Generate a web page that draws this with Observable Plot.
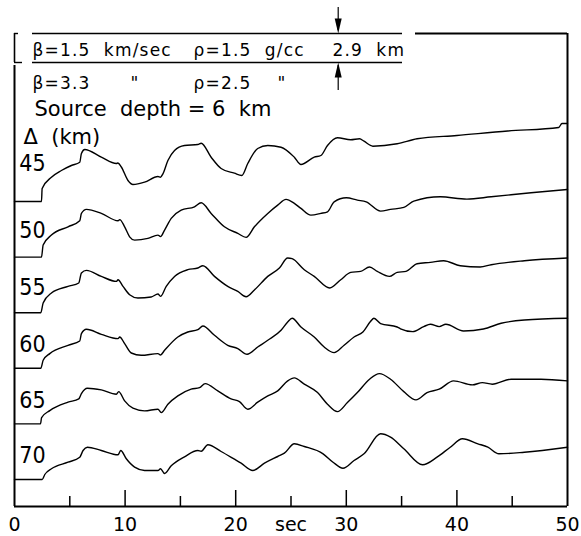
<!DOCTYPE html>
<html>
<head>
<meta charset="utf-8">
<script src="https://cdn.jsdelivr.net/npm/d3@7"></script>
<script src="https://cdn.jsdelivr.net/npm/@observablehq/plot@0.6"></script>
<style>
  html, body { margin: 0; padding: 0; background: #fff; }
  text[aria-label="header"] { letter-spacing: 1.2px; }
  text[aria-label="trace label"] { font-family: "DejaVu Sans Condensed", "DejaVu Sans", sans-serif; font-stretch: condensed; }
</style>
</head>
<body>
<div id="chart"></div>
<script>
// ---- data ----
const distances = [45, 50, 55, 60, 65, 70];           // Δ (km)
const labelRise = [31, 19, 18, 16, 16, 17];            // label baseline above trace baseline (amplitude units)
const tickValues = [0, 10, 20, 25, 30, 40, 50];
const tickLabels = ["0", "10", "20", "sec", "30", "40", "50"];
const majorTicks = [10, 20, 30, 40];
const minorTicks = [5, 15, 25, 35, 45];

// [time (sec), amplitude (arbitrary units)]
const trace45 = [[0,0],[2.44,0],[2.5,13],[3.34,24.3],[4.24,31],[5.14,36],[5.9,39.3],[6.05,48],[6.35,52],[7.85,44.3],[9.21,38],[9.35,38.5],[9.66,34.5],[10.26,21],[10.71,17],[11.76,19.3],[12.97,25],[13.2,24.3],[13.42,27.7],[13.87,41],[14.47,51],[15.37,56],[16.58,57],[16.88,58.3],[17.78,44.3],[18.68,33],[19.88,28.3],[20.55,26],[21.09,38],[21.99,53],[22.9,56],[24.1,54.3],[25.3,44.3],[25.9,37],[27.1,44.3],[27.7,46],[28.3,56],[29.2,63.7],[30.4,61.7],[31.2,62.7],[31.6,60.3],[32.4,55.3],[34.6,57.7],[36.4,62.7],[40.0,66],[44.6,70.5],[49.2,74],[49.5,78],[50,78]];
const trace50 = [[0,0],[2.44,0],[2.59,12],[3.34,22],[4.84,30.3],[5.9,36.3],[6.05,43.7],[6.5,47.7],[7.85,43.7],[9.36,36.3],[9.51,37.5],[9.96,30.3],[10.41,20.3],[10.86,17],[12.06,18.7],[12.97,22],[13.2,20.5],[13.57,27],[14.17,38.7],[15.07,47],[16.27,50.3],[16.88,54.3],[17.78,43.7],[18.98,30.3],[20.19,23.7],[20.94,19.7],[21.69,30.3],[22.9,43.7],[23.8,52],[24.55,57.7],[25.3,53.7],[25.9,48.7],[26.8,42],[27.7,43.7],[28.3,45.3],[28.9,55.3],[30.0,59.3],[31.0,57],[31.8,55.3],[33.1,46],[34.0,47.7],[35.2,49.7],[36.1,56],[38.5,60.3],[40.9,58],[43.1,60.3],[46.7,64.3],[50,67.7]];
const trace55 = [[0,0],[2.38,0],[2.59,9.7],[3.34,19.7],[4.84,26.3],[5.81,29.7],[6.05,39.7],[6.5,42.3],[7.85,36.3],[9.21,31.3],[9.36,33],[9.81,26.3],[10.41,18],[11.16,14.7],[12.36,15.7],[12.97,18.7],[13.2,16.3],[13.72,26.3],[14.47,36.3],[15.67,43],[16.58,44.7],[17.03,47],[18.08,36.3],[19.28,26.3],[20.19,21.3],[20.94,16],[21.69,22.7],[22.9,36.3],[23.95,44.7],[24.7,54.7],[25.1,54],[26.2,43],[27.1,36.3],[28.5,24.7],[29.5,33],[30.4,40.3],[31.3,41.3],[32.1,45.7],[32.8,41.3],[33.9,36.3],[34.6,40.3],[35.4,41.3],[36.4,49],[37.6,50.3],[38.8,52],[40.3,47],[42.1,45.7],[43.1,48],[46.1,52],[50,54.7]];
const trace60 = [[0,0],[2.38,0],[2.59,8],[3.19,14.7],[4.84,23],[5.9,27.3],[6.05,34.7],[6.5,39],[7.85,34],[9.36,29.7],[9.51,31.3],[9.96,24.7],[10.56,15.3],[11.46,13],[12.97,14.7],[13.2,13.3],[13.57,18],[14.77,31.3],[15.67,36.3],[16.58,38.7],[17.03,42.3],[18.08,33],[19.28,23],[20.19,19.7],[21.03,14],[21.99,21.3],[22.9,28],[24.1,38],[24.7,46.3],[25.1,50],[25.9,41.3],[27.1,31.3],[28.0,21.3],[28.9,15.7],[29.8,23],[30.7,31.3],[31.5,36.3],[32.2,47],[32.5,50],[33.1,44.7],[34.6,41.3],[34.9,39.5],[36.0,36.7],[37.0,41.7],[37.6,44],[38.4,41.7],[39.0,44],[40.6,37.3],[42.4,39.3],[44.0,45],[46.1,48.3],[50,50]];
const trace65 = [[0,0],[2.35,0],[2.45,6.3],[3.19,13.3],[4.84,21.7],[5.81,25],[6.05,30.3],[6.59,35.7],[7.85,34],[9.21,29.7],[9.42,32.3],[9.96,23],[10.71,15.7],[11.76,13],[12.97,14.7],[13.27,11.3],[13.87,19.7],[14.77,28],[15.97,34.7],[16.73,36.3],[17.24,40.3],[18.38,33],[19.58,25],[20.34,22.3],[21.09,14.7],[21.99,21.7],[22.9,28],[23.8,33],[24.7,43],[25.3,46],[26.2,39.7],[27.4,31.3],[28.3,19.7],[29.2,12.3],[30.1,21.3],[31.0,31.3],[32.1,44.7],[33.0,50.3],[34.0,44.7],[35.2,32.3],[36.3,24],[37.3,31.3],[38.4,34.7],[39.7,43],[41.4,39],[42.3,41.3],[43.2,39.7],[44.9,44.7],[47.6,44.7],[50,43]];
const trace70 = [[0,0],[2.5,0],[2.74,5],[3.34,10.7],[4.84,17.3],[5.9,22.3],[6.2,29],[6.59,32.3],[7.85,29],[9.36,24.7],[9.6,29],[10.11,20.7],[10.86,12.3],[11.76,9],[12.97,9],[13.2,10.7],[13.57,6],[14.17,13.7],[15.37,22.7],[16.58,29],[16.88,28.3],[17.48,34.7],[18.68,28],[19.88,20.3],[20.49,16.3],[21.54,9],[22.6,16.3],[23.8,23],[24.4,26.3],[25.3,35.7],[26.2,33],[27.9,25.7],[28.8,17.3],[29.7,11.3],[30.7,19],[31.6,25.7],[33.1,45.7],[34.0,42.3],[35.2,30.7],[36.9,14.7],[38.2,22.3],[39.4,32.3],[40.5,40.7],[41.9,35.7],[42.8,32.3],[43.8,25.7],[46.1,27.3],[50,32.3]];
const traces = [trace45, trace50, trace55, trace60, trace65, trace70];

// layer model annotation text
const headerLine1 = ["β=1.5  km/sec", "ρ=1.5  g/cc", "2.9  km"];
const headerLine2 = ["β=3.3", "\"", "ρ=2.5", "\""];
const sourceText = "Source  depth = 6  km";
const deltaText = "Δ  (km)";

// ---- layout helpers (pixel -> data) ----
const PXK = 11.12;                         // pixels per km of Δ
const Y = px => 45 + (px - 201) / PXK;     // vertical pixel -> Δ
const X = px => (px - 14) / 11.06;         // horizontal pixel -> sec
const gain = 1 / PXK;                      // amplitude unit -> Δ units

const rows = traces.flatMap((tr, i) => tr.map(([t, a]) => ({delta: distances[i], t, y: distances[i] - a * gain})));
const labels = distances.map((d, i) => ({d, y: d - labelRise[i] * gain}));

const arrowDown = {draw(ctx) { ctx.moveTo(0, 0); ctx.lineTo(-3.5, -15); ctx.lineTo(3.5, -15); ctx.closePath(); }};
const arrowUp = {draw(ctx) { ctx.moveTo(0, 0); ctx.lineTo(-3.5, 15); ctx.lineTo(3.5, 15); ctx.closePath(); }};

const ax = X(337.7);
const font = "DejaVu Sans, sans-serif";

const chart = Plot.plot({
  width: 581, height: 536,
  marginLeft: 14, marginRight: 14, marginTop: 33, marginBottom: 30,
  style: {fontFamily: font, background: "white", color: "black"},
  x: {domain: [0, 50], axis: null},
  y: {domain: [Y(506), Y(33)], axis: null},
  marks: [
    // frame
    Plot.ruleY([Y(506)], {x1: 0, x2: 50, strokeWidth: 2}),
    Plot.ruleX([50], {y1: Y(506), y2: Y(33), strokeWidth: 2}),
    Plot.ruleX([0], {y1: Y(506), y2: Y(65), strokeWidth: 2}),
    Plot.ruleX([0], {y1: Y(62), y2: Y(33), strokeWidth: 1.6}),
    Plot.ruleY([Y(33)], {x1: 0, x2: X(18), strokeWidth: 1.4}),
    Plot.ruleY([Y(62)], {x1: 0, x2: X(22), strokeWidth: 1.4}),
    Plot.ruleY([Y(33)], {x1: X(415), x2: 50, strokeWidth: 2}),
    // layer boundaries
    Plot.ruleY([Y(33), Y(62)], {x1: X(32), x2: X(402), strokeWidth: 1.3}),
    // thickness arrows
    Plot.ruleX([ax], {y1: Y(7), y2: Y(30), strokeWidth: 1.2}),
    Plot.ruleX([ax], {y1: Y(65), y2: Y(90), strokeWidth: 1.2}),
    Plot.dot([ax], {x: d => d, y: Y(33), symbol: arrowDown, fill: "black", stroke: null}),
    Plot.dot([ax], {x: d => d, y: Y(62), symbol: arrowUp, fill: "black", stroke: null}),
    // header text
    Plot.text(headerLine1, {x: (d, i) => [X(32), X(193), X(332)][i], y: Y(55), text: d => d, textAnchor: "start", lineAnchor: "bottom", fontSize: 17, ariaLabel: () => "header"}),
    Plot.text(headerLine2, {x: (d, i) => [X(32), X(130), X(193), X(277)][i], y: Y(88), text: d => d, textAnchor: "start", lineAnchor: "bottom", fontSize: 17, ariaLabel: () => "header"}),
    Plot.text([sourceText], {x: X(34), y: Y(115), text: d => d, textAnchor: "start", lineAnchor: "bottom", fontSize: 21}),
    Plot.text([deltaText], {x: X(23), y: Y(143), text: d => d, textAnchor: "start", lineAnchor: "bottom", fontSize: 21}),
    // traces
    Plot.line(rows, {x: "t", y: "y", z: "delta", curve: "monotone-x", stroke: "black", strokeWidth: 1.4}),
    // trace labels
    Plot.text(labels, {x: X(32), y: "y", text: d => String(d.d), textAnchor: "middle", lineAnchor: "bottom", fontSize: 23, ariaLabel: () => "trace label"}),
    // ticks
    Plot.ruleX(majorTicks, {y1: Y(506), y2: Y(490), strokeWidth: 1.5}),
    Plot.ruleX(minorTicks, {y1: Y(506), y2: Y(496), strokeWidth: 1.5}),
    Plot.text(tickValues, {x: d => d, y: Y(506), dy: 18, text: (d, i) => tickLabels[i], textAnchor: "middle", lineAnchor: "middle", fontSize: 19})
  ]
});
document.getElementById("chart").appendChild(chart);
</script>
</body>
</html>
